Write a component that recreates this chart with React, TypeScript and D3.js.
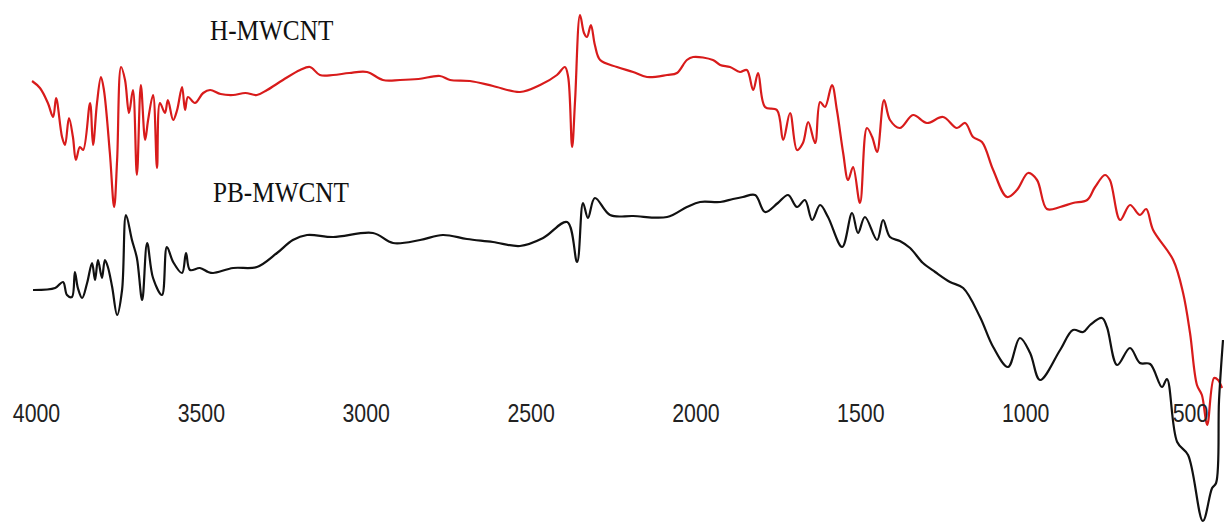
import React, { useRef, useEffect } from 'react';
import * as d3 from 'd3';

// FTIR spectra, wavenumber (cm-1) vs transmittance (a.u.)
const hWavenumber = [
    4012, 3988, 3964, 3948, 3939, 3921, 3912, 3900, 3888, 3879, 3867, 3857, 3836, 3827, 3815, 3803,
    3794, 3776, 3763, 3754, 3742, 3730, 3718, 3706, 3694, 3682, 3669, 3660, 3645, 3633, 3624, 3609,
    3600, 3584, 3572, 3557, 3548, 3539, 3518, 3493, 3472, 3440, 3402, 3365, 3330, 3299, 3251, 3199, 3169, 3139,
    3099, 3050, 2996, 2948, 2896, 2840, 2775, 2744, 2684, 2614, 2532, 2471, 2420, 2396, 2386, 2374, 2365, 2350,
    2338, 2329, 2317, 2305, 2289, 2238, 2189, 2147, 2086, 2056, 2026, 2007, 1947, 1925, 1895, 1865,
    1844, 1825, 1810, 1789, 1753, 1734, 1713, 1692, 1674, 1658, 1637, 1622, 1607, 1586, 1571, 1552,
    1537, 1522, 1501, 1480, 1464, 1449, 1428, 1410, 1380, 1340, 1298, 1249, 1207, 1182, 1158, 1131,
    1097, 1055, 1025, 991, 964, 934, 894, 855, 812, 788, 758, 743, 712, 682, 652, 633,
    612, 551, 521, 500, 479, 464, 448, 427, 415, 403
];
const hTransmittance = [
    444, 437, 422, 408, 427, 388, 380, 407, 388, 365, 378, 375, 422, 380, 422, 448,
    435, 372, 318, 365, 458, 445, 412, 435, 350, 440, 385, 405, 430, 357, 422, 412,
    425, 405, 415, 438, 415, 428, 422, 432, 435, 431, 430, 432, 430, 435, 445, 455, 458, 450,
    450, 452, 453, 445, 445, 446, 449, 445, 444, 439, 433, 440, 450, 458, 448, 378, 425, 510,
    492, 488, 500, 480, 465, 458, 453, 448, 450, 452, 465, 468, 465, 460, 458, 453,
    455, 435, 452, 418, 415, 385, 412, 375, 382, 403, 382, 423, 418, 440, 415, 372,
    345, 358, 322, 397, 388, 373, 425, 405, 397, 410, 402, 408, 397, 402, 388, 383,
    355, 328, 335, 352, 345, 316, 318, 322, 325, 338, 350, 345, 305, 320, 310, 316,
    295, 265, 232, 192, 140, 130, 100, 147, 145, 137
];

const pbWavenumber = [
    4009, 3942, 3918, 3906, 3891, 3882, 3873, 3860, 3845, 3830, 3821, 3812, 3800, 3791, 3782, 3769,
    3754, 3739, 3727, 3709, 3694, 3678, 3663, 3645, 3618, 3603, 3584, 3557, 3545, 3533, 3503, 3478,
    3463, 3402, 3330, 3269, 3221, 3178, 3099, 2978, 2917, 2835, 2766, 2693, 2614, 2532, 2462, 2389,
    2359, 2341, 2326, 2305, 2259, 2189, 2086, 2026, 1986, 1925, 1886, 1856, 1819, 1789, 1750, 1719,
    1692, 1668, 1646, 1622, 1598, 1555, 1525, 1507, 1486, 1449, 1431, 1410, 1380, 1349, 1310, 1273,
    1228, 1188, 1137, 1097, 1052, 1016, 985, 955, 894, 855, 824, 803, 767, 752, 721, 682,
    652, 621, 585, 570, 539, 506, 461, 433, 421, 412, 400
];
const pbTransmittance = [
    235, 237, 243, 230, 228, 253, 237, 227, 242, 262, 245, 265, 247, 265, 258, 238,
    210, 235, 310, 285, 267, 225, 282, 247, 230, 278, 263, 252, 272, 255, 257, 253,
    252, 257, 258, 272, 285, 290, 288, 292, 282, 285, 290, 286, 283, 279, 287, 303,
    263, 322, 307, 327, 310, 309, 308, 318, 323, 323, 326, 328, 330, 313, 322, 330,
    318, 325, 305, 320, 308, 278, 312, 292, 308, 285, 305, 288, 284, 277, 262, 253,
    243, 237, 208, 178, 158, 187, 172, 145, 175, 195, 193, 200, 207, 198, 160, 177,
    162, 161, 138, 146, 83, 70, 4, 37, 42, 125, 185
];

const tickValues = [4000, 3500, 3000, 2500, 2000, 1500, 1000, 500];
const seriesNames = ['H-MWCNT', 'PB-MWCNT'];

const WIDTH = 1224;
const HEIGHT = 525;

const App: React.FC = () => {
    const svgRef = useRef<SVGSVGElement | null>(null);

    useEffect(() => {
        if (!svgRef.current) return;
        const svg = d3.select(svgRef.current);
        svg.selectAll('*').remove();

        const xScale = d3.scaleLinear().domain([4000, 400]).range([36, 1223]);
        const yScale = d3.scaleLinear().domain([0, 525]).range([525, 0]);

        const line = d3.line<[number, number]>()
            .x(d => xScale(d[0]))
            .y(d => yScale(d[1]))
            .curve(d3.curveCatmullRom.alpha(0.5));

        const hData = hWavenumber.map((w, i) => [w, hTransmittance[i]] as [number, number]);
        const pbData = pbWavenumber.map((w, i) => [w, pbTransmittance[i]] as [number, number]);

        svg.append('path')
            .datum(hData)
            .attr('d', line)
            .attr('fill', 'none')
            .attr('stroke', '#d81b1b')
            .attr('stroke-width', 2.2)
            .attr('stroke-linejoin', 'round');

        svg.append('path')
            .datum(pbData)
            .attr('d', line)
            .attr('fill', 'none')
            .attr('stroke', '#111')
            .attr('stroke-width', 2.2)
            .attr('stroke-linejoin', 'round');

        // wavenumber axis: labels only
        const axis = svg.append('g')
            .attr('transform', 'translate(0,400)')
            .call(d3.axisBottom(xScale).tickValues(tickValues).tickSize(0).tickPadding(4).tickFormat(d3.format('d')));
        axis.select('.domain').remove();
        axis.selectAll('text')
            .attr('transform', 'scale(0.82,1)')
            .style('font-family', '"Liberation Sans", Arial, sans-serif')
            .style('font-size', '26px')
            .attr('fill', '#222');

        // series labels
        const labelPos = [
            { x: 210, y: 40 },
            { x: 213, y: 202 },
        ];
        seriesNames.forEach((name, i) => {
            svg.append('text')
                .attr('transform', `translate(${labelPos[i].x},${labelPos[i].y}) scale(0.87,1)`)
                .style('font-family', '"Liberation Serif", "Times New Roman", serif')
                .style('font-size', '29px')
                .attr('fill', '#111')
                .text(name);
        });
    }, []);

    return (
        <svg
            ref={svgRef}
            width={WIDTH}
            height={HEIGHT}
            style={{ position: 'absolute', left: 0, top: 0, background: '#fff' }}
        />
    );
};

export default App;
